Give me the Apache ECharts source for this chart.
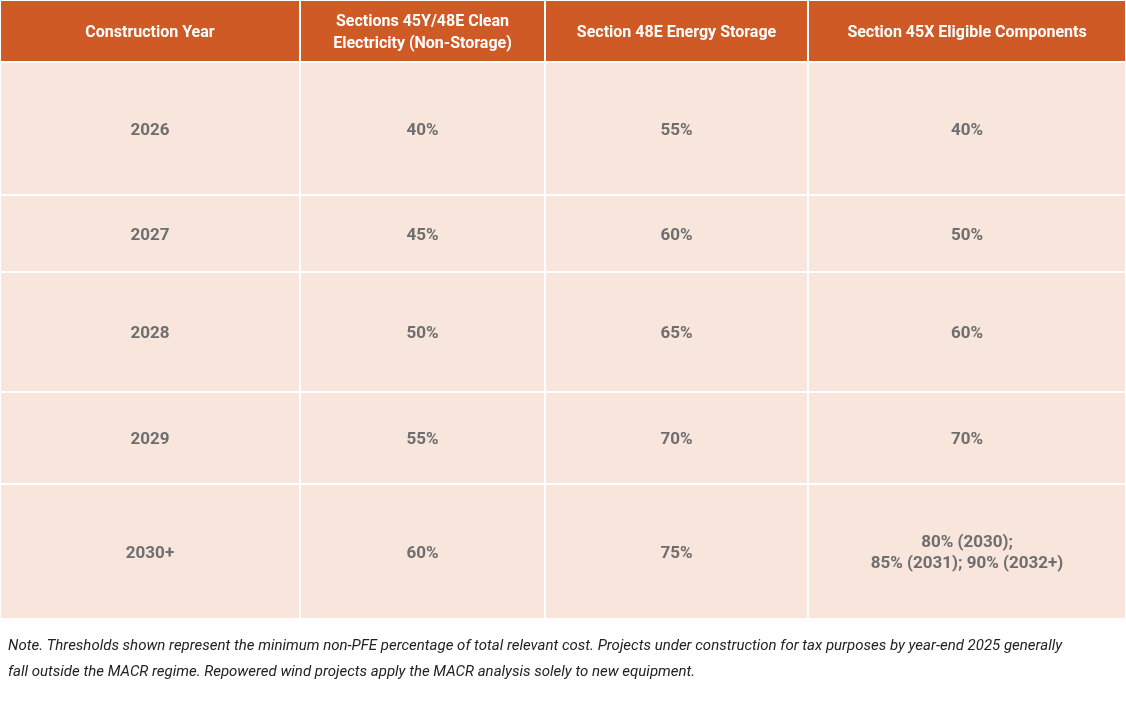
<!DOCTYPE html>
<html><head><meta charset="utf-8">
<script src="https://cdn.jsdelivr.net/npm/echarts@6/dist/echarts.min.js"></script>
<style>body{margin:0;background:#fff}#c{width:1126px;height:711px}</style>
</head><body><div id="c"></div>
<script>
const headers = ["Construction Year", "Sections 45Y/48E Clean\nElectricity (Non-Storage)", "Section 48E Energy Storage", "Section 45X Eligible Components"];
const years = ["2026", "2027", "2028", "2029", "2030+"];
const cleanElectricity = ["40%", "45%", "50%", "55%", "60%"];
const energyStorage = ["55%", "60%", "65%", "70%", "75%"];
const components45X = ["40%", "50%", "60%", "70%", "80% (2030);\n85% (2031); 90% (2032+)"];
const note = "Note. Thresholds shown represent the minimum non-PFE percentage of total relevant cost. Projects under construction for tax purposes by year-end 2025 generally\nfall outside the MACR regime. Repowered wind projects apply the MACR analysis solely to new equipment.";

// layout (not data)
const colEdges = [0, 300, 545, 808, 1126];
const rowEdges = [0, 62, 195, 272, 392, 484, 619];

const cols = [years, cleanElectricity, energyStorage, components45X];
const cells = [];
headers.forEach((h, c) => cells.push([colEdges[c], colEdges[c+1], rowEdges[0], rowEdges[1], h, 1]));
years.forEach((_, r) => cols.forEach((col, c) =>
  cells.push([colEdges[c], colEdges[c+1], rowEdges[r+1], rowEdges[r+2], col[r], 0])));

const chart = echarts.init(document.getElementById('c'));
const font = "'Roboto', sans-serif";
chart.setOption({
  animation: false,
  grid: {left: 0, top: 0, width: 1126, height: 619},
  xAxis: {type: 'value', min: 0, max: 1126, show: false},
  yAxis: {type: 'value', min: 0, max: 619, inverse: true, show: false},
  series: [{
    type: 'custom',
    data: cells,
    renderItem: function (params, api) {
      const p0 = api.coord([api.value(0), api.value(2)]);
      const p1 = api.coord([api.value(1), api.value(3)]);
      const head = api.value(5) === 1;
      return {
        type: 'group',
        children: [{
          type: 'rect',
          shape: {x: p0[0] + 1, y: p0[1] + 1, width: p1[0] - p0[0] - 2, height: p1[1] - p0[1] - 2},
          style: {fill: head ? '#cf5a26' : '#f8e5dc'}
        }, {
          type: 'text',
          x: (p0[0] + p1[0]) / 2, y: (p0[1] + p1[1]) / 2 + 2,
          style: {
            text: cells[params.dataIndex][4],
            fill: head ? '#ffffff' : '#6e6e6e',
            font: 'bold ' + (head ? 16 : 17) + 'px ' + font,
            align: 'center', verticalAlign: 'middle', lineHeight: head ? 22 : 21
          }
        }]
      };
    }
  }],
  graphic: [{
    type: 'text', left: 8, top: 633,
    style: {text: note, fill: '#222', font: 'italic 15px ' + font, lineHeight: 26}
  }]
});
</script></body></html>
